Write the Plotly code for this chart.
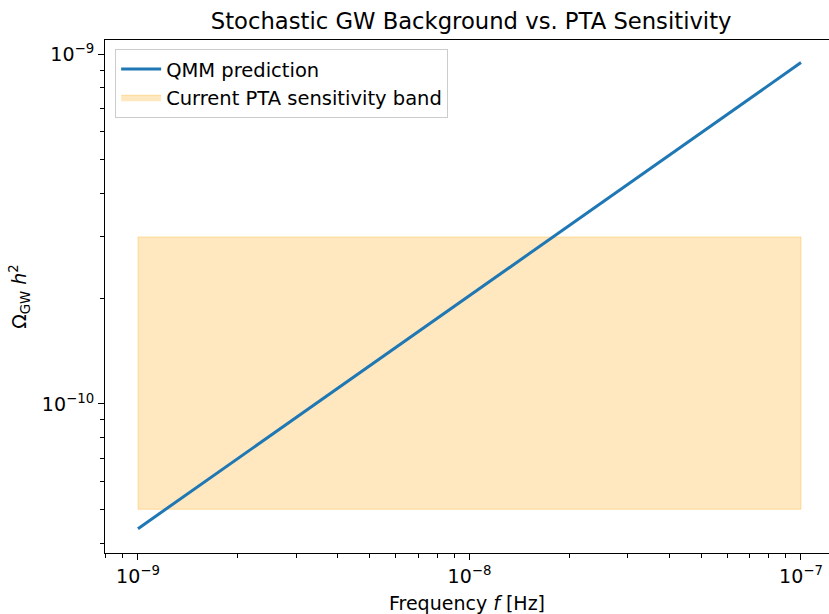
import numpy as np
import plotly.graph_objects as go

# Data
freq = [1e-9, 1e-8, 1e-7]
omega_qmm = [4.4e-11, 2.04e-10, 9.45e-10]
band_f = [1e-9, 1e-7]
band_low = 5e-11
band_high = 3e-10

x_major = [1e-9, 1e-8, 1e-7]
x_major_text = ["10<sup>−9</sup>", "10<sup>−8</sup>", "10<sup>−7</sup>"]
y_major = [1e-10, 1e-9]
y_major_text = ["10<sup>−10</sup>", "10<sup>−9</sup>"]

FONT = "DejaVu Sans"

fig = go.Figure()

# sensitivity band
fig.add_trace(go.Scatter(
    x=[band_f[0], band_f[1], band_f[1], band_f[0], band_f[0]],
    y=[band_low, band_low, band_high, band_high, band_low],
    fill="toself", mode="lines",
    fillcolor="rgba(255,165,0,0.25)",
    line=dict(color="rgba(255,165,0,0.3)", width=1),
    name="Current PTA sensitivity band",
))
fig.add_trace(go.Scatter(
    x=freq, y=omega_qmm, mode="lines",
    line=dict(color="#1f77b4", width=3),
    name="QMM prediction",
))

minor_x = [m * 10.0**e for e in range(-10, -6) for m in range(2, 10)]
minor_y = [m * 10.0**e for e in range(-11, -8) for m in range(2, 10)]

fig.update_layout(
    width=829, height=614,
    margin=dict(l=105, r=0, t=40, b=61),
    paper_bgcolor="white", plot_bgcolor="white",
    font=dict(family=FONT, size=19, color="black"),
    title=dict(text="Stochastic GW Background vs. PTA Sensitivity",
               x=(105 + 829) / 2 / 829 + 0.005, xanchor="center",
               y=1 - 21 / 614, yanchor="middle",
               font=dict(size=22.7)),
    showlegend=True,
    legend=dict(x=0.014, y=0.983, xanchor="left", yanchor="top",
                bgcolor="rgba(255,255,255,0.8)", bordercolor="#cccccc",
                borderwidth=1, font=dict(size=19.5), traceorder="reversed",
                itemwidth=40, tracegroupgap=0),
    xaxis=dict(
        type="log", range=[-9.0995, -6.9155],
        showgrid=False, zeroline=False,
        showline=True, linecolor="black", linewidth=1.2, mirror=True,
        ticks="outside", ticklen=6, tickwidth=1.2, tickcolor="black",
        tickmode="array", tickvals=x_major, ticktext=x_major_text,
        tickfont=dict(size=19),
        minor=dict(tickmode="array", tickvals=minor_x, ticks="outside",
                   ticklen=3.5, tickwidth=1, tickcolor="black", showgrid=False),
        title=dict(text="Frequency <i>f</i> [Hz]", font=dict(size=19), standoff=11),
    ),
    yaxis=dict(
        type="log", range=[-10.426, -8.96],
        showgrid=False, zeroline=False,
        showline=True, linecolor="black", linewidth=1.2, mirror=False,
        ticks="outside", ticklen=6, tickwidth=1.2, tickcolor="black",
        tickmode="array", tickvals=y_major, ticktext=y_major_text,
        tickfont=dict(size=19),
        minor=dict(tickmode="array", tickvals=minor_y, ticks="outside",
                   ticklen=3.5, tickwidth=1, tickcolor="black", showgrid=False),
        title=dict(text="Ω<sub>GW</sub> <i>h</i><sup>2</sup>", font=dict(size=19), standoff=10),
    ),
)

fig.write_html("out.html")
